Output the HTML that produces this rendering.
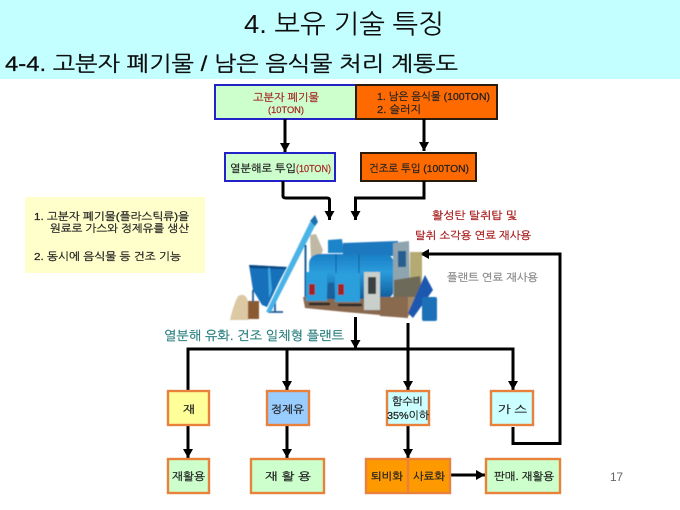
<!DOCTYPE html>
<html><head><meta charset="utf-8"><style>
html,body{margin:0;padding:0;background:#fff;width:680px;height:510px;overflow:hidden}
svg{display:block}
text{font-family:"Liberation Sans","NanumGothic","Noto Sans CJK KR",sans-serif}
</style></head><body>
<svg width="680" height="510" viewBox="0 0 680 510" xmlns="http://www.w3.org/2000/svg">
<defs>
<marker id="a" markerUnits="userSpaceOnUse" markerWidth="10" markerHeight="10" refX="9" refY="5" orient="auto"><path d="M0 0L9 5L0 10Z" fill="#000"/></marker>
<filter id="b" x="-5%" y="-5%" width="110%" height="110%"><feGaussianBlur stdDeviation="0.5"/></filter>
<filter id="c" x="-5%" y="-5%" width="110%" height="110%"><feGaussianBlur stdDeviation="0.3"/></filter>
<linearGradient id="d" x1="0" y1="0" x2="0" y2="1"><stop offset="0" stop-color="#1a7ec4"/><stop offset=".4" stop-color="#2a9cdc"/><stop offset="1" stop-color="#0f5a98"/></linearGradient>
</defs>
<rect width="680" height="79" fill="#c4ffff"/>
<g filter="url(#c)">
<text x="244" y="33" font-size="26" textLength="200" lengthAdjust="spacingAndGlyphs" fill="#111">4. 보유 기술 특징</text>
<text x="5" y="71" font-size="21" stroke="#111" stroke-width=".3" textLength="453" lengthAdjust="spacingAndGlyphs" fill="#111">4-4. 고분자  폐기물 / 남은 음식물  처리 계통도</text>

<rect x="215" y="85" width="141" height="34" fill="#ccffcc" stroke="#2020c8" stroke-width="2"/>
<rect x="356" y="85" width="141" height="34" fill="#ff6a00" stroke="#2a1a10" stroke-width="2"/>
<rect x="225" y="153" width="110" height="28" fill="#ccffcc" stroke="#2020c8" stroke-width="2"/>
<rect x="361" y="153" width="115" height="28" fill="#ff6a00" stroke="#2a1a10" stroke-width="2"/>
<rect x="25" y="197" width="180" height="76" fill="#ffffcc"/>

<g fill="none" stroke="#000" stroke-width="3">
<path d="M285 119V152" marker-end="url(#a)"/>
<path d="M424 119V151" marker-end="url(#a)"/>
<path d="M283 181V196Q283 198 286 198H327Q329.500 198 329.500 200V220" marker-end="url(#a)"/>
<path d="M424 181V198H355.500V220" marker-end="url(#a)"/>
<path d="M188 390V349H513V390" marker-end="url(#a)"/>
<path d="M287 349V390" marker-end="url(#a)"/>
<path d="M408 323V390" marker-end="url(#a)"/>
<path d="M355.500 317V349" marker-end="url(#a)"/>
<path d="M188 425V458" marker-end="url(#a)"/>
<path d="M287 425V458" marker-end="url(#a)"/>
<path d="M408 425V458" marker-end="url(#a)"/>
<path d="M450 475H485" marker-end="url(#a)"/>
<path d="M513 427V443.500H560V254H420" marker-end="url(#a)"/>
</g>

<g stroke="#e8813a" stroke-width="2.4">
<rect x="168" y="391" width="41" height="34" fill="#ffff99"/>
<rect x="267" y="391" width="42" height="34" fill="#99ccff"/>
<rect x="387" y="391" width="42" height="34" fill="#ccffff"/>
<rect x="491" y="391" width="42" height="34" fill="#ccffff"/>
<rect x="168" y="459" width="41" height="34" fill="#ccffcc"/>
<rect x="251" y="459" width="73" height="34" fill="#ccffcc"/>
<rect x="366" y="459" width="84" height="34" fill="#ff9900"/>
<path d="M408 459V493" fill="none"/>
<rect x="486" y="459" width="74" height="34" fill="#ccffcc"/>
</g>

<g font-size="10.500" fill="#222" stroke="#222" stroke-width=".25">
<text x="253" y="101" textLength="66" lengthAdjust="spacingAndGlyphs" fill="#a52a2a" stroke="#a52a2a">고분자 폐기물</text>
<text x="268" y="113" font-size="9.500" textLength="36" lengthAdjust="spacingAndGlyphs" fill="#a52a2a" stroke="#a52a2a">(10TON)</text>
<text x="377" y="100" textLength="113" lengthAdjust="spacingAndGlyphs">1. 남은 음식물 (100TON)</text>
<text x="377" y="113" textLength="44" lengthAdjust="spacingAndGlyphs">2. 슬러지</text>
<text x="230" y="172" textLength="66" lengthAdjust="spacingAndGlyphs">열분해로 투입</text>
<text x="296" y="172" textLength="35" lengthAdjust="spacingAndGlyphs" fill="#a52a2a" stroke="#a52a2a">(10TON)</text>
<text x="369" y="172" textLength="100" lengthAdjust="spacingAndGlyphs">건조로 투입 (100TON)</text>
<text x="34" y="220" textLength="155" lengthAdjust="spacingAndGlyphs">1.  고분자 폐기물(플라스틱류)을</text>
<text x="50" y="232" textLength="139" lengthAdjust="spacingAndGlyphs">원료로 가스와 정제유를 생산</text>
<text x="34" y="260" textLength="147" lengthAdjust="spacingAndGlyphs">2.  동시에 음식물 등 건조 기능</text>
<text x="432" y="219" textLength="85" lengthAdjust="spacingAndGlyphs" fill="#a81c1c" stroke="#a81c1c">활성탄 탈취탑  및</text>
<text x="415" y="239" textLength="116" lengthAdjust="spacingAndGlyphs" fill="#a81c1c" stroke="#a81c1c">탈취 소각용 연료 재사용</text>
<text x="447" y="281" textLength="91" lengthAdjust="spacingAndGlyphs" fill="#8a8a8a" stroke="#8a8a8a">플랜트 연료 재사용</text>
<text x="164" y="340" font-size="12.500" textLength="180" lengthAdjust="spacingAndGlyphs" fill="#2a7f7f" stroke="#2a7f7f">열분해 유화. 건조 일체형 플랜트</text>
<text x="183" y="413" textLength="12" lengthAdjust="spacingAndGlyphs">재</text>
<text x="271" y="413" textLength="33" lengthAdjust="spacingAndGlyphs">정제유</text>
<text x="392" y="405" textLength="31" lengthAdjust="spacingAndGlyphs">함수비</text>
<text x="387" y="419" textLength="42" lengthAdjust="spacingAndGlyphs">35%이하</text>
<text x="498" y="413" textLength="29" lengthAdjust="spacingAndGlyphs">가  스</text>
<text x="172" y="480" textLength="33" lengthAdjust="spacingAndGlyphs">재활용</text>
<text x="265" y="480" textLength="46" lengthAdjust="spacingAndGlyphs">재  활  용</text>
<text x="371" y="480" textLength="32" lengthAdjust="spacingAndGlyphs">퇴비화</text>
<text x="413" y="480" textLength="32" lengthAdjust="spacingAndGlyphs">사료화</text>
<text x="494" y="480" textLength="60" lengthAdjust="spacingAndGlyphs">판매. 재활용</text>
</g>
<text x="610" y="481" font-size="12" textLength="13" fill="#666">17</text>
</g>

<g filter="url(#b)">
<!-- sack and barrel -->
<path d="M230 320Q233 306 238 296Q246 292 248 302L249 320Z" fill="#dcc8a2"/>
<rect x="248" y="301" width="11" height="18" fill="#8a5a32"/>
<!-- hopper -->
<path d="M249 265L287 267L280 280L267 307L262 305L253 290Z" fill="#1870ba"/>
<path d="M249 265L287 267L285 269L250 268Z" fill="#0e4a82"/>
<path d="M268 268L269 298L272 290L270 268Z" fill="#3fa8de"/>
<!-- legs -->
<path d="M253 290V302M275 295V312M268 312H283" stroke="#1d5f9a" stroke-width="1.800" fill="none"/>
<!-- conveyor -->
<path d="M266 312L310 222L316 224L271 312Z" fill="#49b2e6"/>
<path d="M310 221L315 215L318 222L315 226Z" fill="#1d6fb0"/>
<rect x="304.500" y="245" width="2" height="57" fill="#1d5f9a"/>
<path d="M310 235L316 234L323 250L320 258L311 258Z" fill="#bfb9a4"/>
<!-- base -->
<path d="M303 297H408V318L380 315L345 312L305 308Z" fill="#8a6a50"/>
<path d="M309 304H330M338 305H362M383 307H404" stroke="#262626" stroke-width="2.500"/>
<!-- upper tank -->
<path d="M328 240L342 239L344 253H328Z" fill="#1f84c8"/>
<path d="M343 243L398 241L400 256H343Z" fill="#1b78bf"/>
<!-- main drum -->
<rect x="309" y="254" width="85" height="45" rx="10" fill="url(#d)"/>
<path d="M336 254V277M359 254V277" stroke="#0d5d9a" stroke-width="1"/>
<!-- right side equipment -->
<path d="M393 243L409 241L410 296L393 298Z" fill="#8ea4ae"/>
<rect x="398" y="251" width="8" height="16" fill="#255f8f"/>
<path d="M410 252H422V297H410Z" fill="#b4aa72"/>
<path d="M394 280L420 276L422 300L394 300Z" fill="#6e6a5a"/>
<path d="M380 297H408V318L380 316Z" fill="#8a6a50"/>
<path d="M408 297H422L415 313L408 316Z" fill="#a58a68"/>
<!-- front boxes -->
<rect x="306" y="272" width="21" height="29" fill="#2c9fdc"/>
<rect x="335" y="273" width="25" height="29" fill="#2c9fdc"/>
<rect x="328" y="283" width="6" height="15" fill="#1d5f9a"/>
<rect x="309" y="284" width="6" height="11" fill="#a52020"/>
<rect x="338" y="284" width="6" height="11" fill="#a52020"/>
<!-- cabinet -->
<rect x="364" y="272" width="16" height="38" fill="#c9cfca"/>
<rect x="368" y="277" width="8" height="17" fill="#3a3f42"/>
<!-- right conveyor and barrel -->
<path d="M408 313L425 275L433 290L413 318Z" fill="#1a58b0"/>
<rect x="422" y="297" width="15" height="24" rx="2" fill="#1d6fb8"/>
</g>
</svg>
</body></html>
